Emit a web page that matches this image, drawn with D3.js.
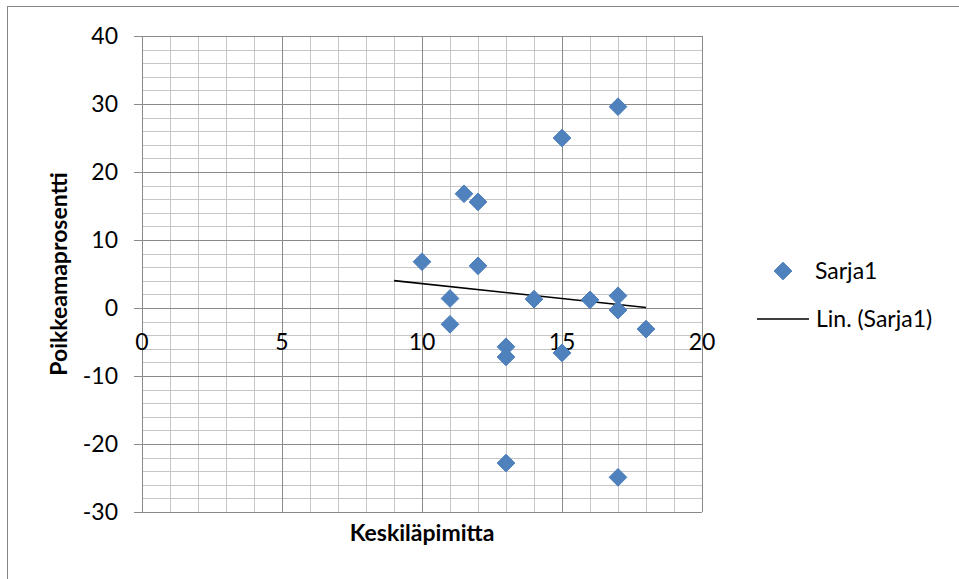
<!DOCTYPE html>
<html>
<head>
<meta charset="utf-8">
<script src="https://cdn.jsdelivr.net/npm/d3@7"></script>
<style>
  body { margin: 0; background: #fff; }
  svg { display: block; font-family: Lato, "Open Sans", sans-serif; }
</style>
</head>
<body>
<div id="chart"></div>
<script>
// diameter (x) and deviation percent (y)
const xValues = [10, 11, 11, 11.5, 12, 12, 13, 13, 13, 14, 15, 15, 16, 17, 17, 17, 17, 18];
const yValues = [6.8, 1.4, -2.4, 16.8, 15.6, 6.2, -5.7, -7.2, -22.8, 1.3, 25, -6.6, 1.2, 29.6, 1.8, -0.3, -24.9, -3.1];
const xTicks = [0, 5, 10, 15, 20];
const yTicks = [-30, -20, -10, 0, 10, 20, 30, 40];
const seriesName = "Sarja1";
const trendName = "Lin. (Sarja1)";
const trendRange = [9, 18];

const width = 959, height = 579;
const plotLeft = 142, plotRight = 702, plotTop = 36, plotBottom = 512;
const fontSize = 23;

const data = xValues.map((x, i) => ({x: x, y: yValues[i]}));

const x = d3.scaleLinear().domain([0, 20]).range([plotLeft, plotRight]);
const y = d3.scaleLinear().domain([-30, 40]).range([plotBottom, plotTop]);

const svg = d3.select("#chart")
  .append("svg")
  .attr("width", width)
  .attr("height", height);

// chart frame (runs off the right and bottom edge)
svg.append("rect")
  .attr("x", 7.5).attr("y", 6.5)
  .attr("width", 1000).attr("height", 1000)
  .attr("fill", "none")
  .attr("stroke", "#868686");

// minor grid
svg.append("g")
  .attr("stroke", "#c6c6c6")
  .selectAll("line")
  .data(d3.range(1, 20).filter(d => d % 5))
  .join("line")
  .attr("x1", d => Math.round(x(d)) + 0.5).attr("x2", d => Math.round(x(d)) + 0.5)
  .attr("y1", plotTop).attr("y2", plotBottom);

svg.append("g")
  .attr("stroke", "#c6c6c6")
  .selectAll("line")
  .data(d3.range(-28, 40, 2).filter(d => d % 10))
  .join("line")
  .attr("x1", plotLeft).attr("x2", plotRight)
  .attr("y1", d => Math.round(y(d)) + 0.5).attr("y2", d => Math.round(y(d)) + 0.5);

// major grid
svg.append("g")
  .attr("stroke", "#8a8a8a")
  .selectAll("line")
  .data(xTicks)
  .join("line")
  .attr("x1", d => Math.round(x(d)) + 0.5).attr("x2", d => Math.round(x(d)) + 0.5)
  .attr("y1", plotTop).attr("y2", plotBottom);

svg.append("g")
  .attr("stroke", "#8a8a8a")
  .selectAll("line")
  .data(yTicks)
  .join("line")
  .attr("x1", plotLeft - 8).attr("x2", plotRight)
  .attr("y1", d => Math.round(y(d)) + 0.5).attr("y2", d => Math.round(y(d)) + 0.5);

// y tick labels
svg.append("g")
  .attr("font-size", fontSize)
  .attr("text-anchor", "end")
  .selectAll("text")
  .data(yTicks)
  .join("text")
  .attr("x", 118)
  .attr("y", d => y(d))
  .attr("dy", "0.36em")
  .text(d => d);

// x tick labels, hanging under the zero line
svg.append("g")
  .attr("font-size", fontSize)
  .attr("text-anchor", "middle")
  .selectAll("text")
  .data(xTicks)
  .join("text")
  .attr("x", d => x(d))
  .attr("y", y(0) + 42)
  .text(d => d);

// linear trend line (least squares)
const mx = d3.mean(xValues), my = d3.mean(yValues);
const slope = d3.sum(data, d => (d.x - mx) * (d.y - my)) / d3.sum(data, d => (d.x - mx) ** 2);
const trend = trendRange.map(v => ({x: v, y: my + slope * (v - mx)}));

svg.append("path")
  .datum(trend)
  .attr("fill", "none")
  .attr("stroke", "#000")
  .attr("stroke-width", 1.6)
  .attr("d", d3.line().x(d => x(d.x)).y(d => y(d.y)));

// markers
const diamond = d3.symbol().type(d3.symbolDiamond2).size(200);
svg.append("g")
  .selectAll("path")
  .data(data)
  .join("path")
  .attr("transform", d => `translate(${x(d.x)},${y(d.y)})`)
  .attr("d", diamond)
  .attr("fill", "#4f81bd")
  .attr("stroke", "#4a7ebb");

// axis titles
svg.append("text")
  .attr("x", (plotLeft + plotRight) / 2)
  .attr("y", 541)
  .attr("text-anchor", "middle")
  .attr("font-size", fontSize)
  .attr("font-weight", "bold")
  .text("Keskiläpimitta");

svg.append("text")
  .attr("transform", `translate(67,${(plotTop + plotBottom) / 2}) rotate(-90)`)
  .attr("text-anchor", "middle")
  .attr("font-size", fontSize)
  .attr("font-weight", "bold")
  .text("Poikkeamaprosentti");

// legend
const legend = svg.append("g").attr("font-size", fontSize);
legend.append("path")
  .attr("transform", "translate(783,271)")
  .attr("d", diamond)
  .attr("fill", "#4f81bd")
  .attr("stroke", "#4a7ebb");
legend.append("text")
  .attr("x", 815).attr("y", 271).attr("dy", "0.36em")
  .text(seriesName);
legend.append("line")
  .attr("x1", 757).attr("x2", 809)
  .attr("y1", 319).attr("y2", 319)
  .attr("stroke", "#000")
  .attr("stroke-width", 1.6);
legend.append("text")
  .attr("x", 816).attr("y", 319).attr("dy", "0.36em")
  .text(trendName);
</script>
</body>
</html>
